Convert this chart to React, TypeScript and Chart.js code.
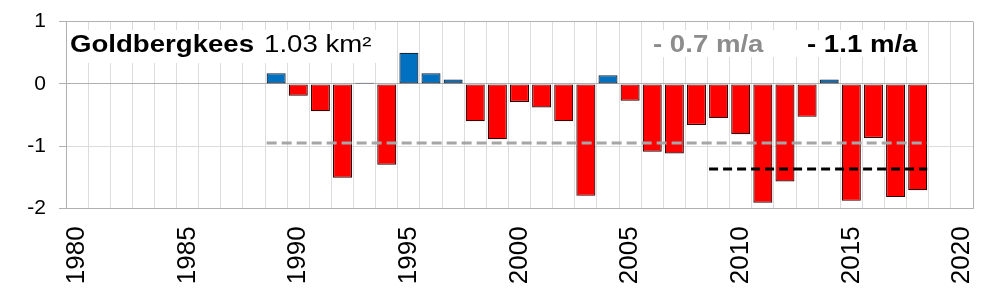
import React, { useEffect, useRef } from 'react';
import { Chart, registerables } from 'chart.js';

Chart.register(...registerables);

// ---- data ----
const firstAxisYear = 1980;
const lastAxisYear = 2020;
const years = [
  1989, 1990, 1991, 1992, 1993, 1994, 1995, 1996, 1997, 1998,
  1999, 2000, 2001, 2002, 2003, 2004, 2005, 2006, 2007, 2008,
  2009, 2010, 2011, 2012, 2013, 2014, 2015, 2016, 2017, 2018,
];
const balance = [
  0.17, -0.19, -0.44, -1.51, 0.02, -1.3, 0.5, 0.17, 0.07, -0.6,
  -0.89, -0.29, -0.38, -0.6, -1.8, 0.14, -0.27, -1.09, -1.12, -0.66,
  -0.55, -0.81, -1.91, -1.57, -0.53, 0.07, -1.88, -0.87, -1.82, -1.71,
];
const trendStart = [1989, 2009];
const trendEnd = [2018, 2018];
const trendValue = [-0.95, -1.37];
const trendColor = ['#a6a6a6', '#000000'];
const trendDash = [[10, 5], [9, 5]];
const yTicks = [1, 0, -1, -2];
const glacierName = 'Goldbergkees';
const glacierArea = '1.03 km²';
const rateLabels = ['- 0.7 m/a', '- 1.1 m/a'];
const rateColors = ['#8c8c8c', '#000000'];

const FONT = '"Liberation Sans", Arial, sans-serif';
const BAR_PCT = 0.86;

function stretchText(ctx: CanvasRenderingContext2D, text: string, x: number, y: number, font: string, color: string) {
  ctx.save();
  ctx.font = font;
  ctx.fillStyle = color;
  ctx.textAlign = 'left';
  ctx.textBaseline = 'alphabetic';
  ctx.translate(x, y);
  ctx.scale(1.2, 1);
  ctx.fillText(text, 0, 0);
  const w = ctx.measureText(text).width * 1.2;
  ctx.restore();
  return w;
}

const overlayPlugin = {
  id: 'overlay',
  beforeDatasetsDraw(chart: any) {
    const { ctx, chartArea: a } = chart;
    ctx.save();
    // white boxes behind text
    ctx.fillStyle = '#ffffff';
    ctx.fillRect(a.left + 1, 30, 388 - a.left, 33);
    ctx.fillRect(645, 30, 283, 27);
    // right border
    ctx.strokeStyle = '#b0b0b0';
    ctx.lineWidth = 1;
    ctx.beginPath();
    ctx.moveTo(Math.round(a.right) + 0.5, a.top);
    ctx.lineTo(Math.round(a.right) + 0.5, a.bottom);
    ctx.stroke();
    ctx.restore();

    const bold = `bold 23px ${FONT}`;
    const normal = `23px ${FONT}`;
    const w = stretchText(ctx, glacierName, 70, 52, bold, '#000');
    stretchText(ctx, glacierArea, 70 + w + 10, 52, normal, '#000');
    stretchText(ctx, rateLabels[0], 653, 52, bold, rateColors[0]);
    stretchText(ctx, rateLabels[1], 807, 52, bold, rateColors[1]);
  },
};

export default function App() {
  const ref = useRef<HTMLCanvasElement | null>(null);

  useEffect(() => {
    document.body.style.margin = '0';
    const labels: string[] = [];
    for (let y = firstAxisYear; y <= lastAxisYear; y++) labels.push(String(y));
    const barData = labels.map((l) => {
      const i = years.indexOf(Number(l));
      return i >= 0 ? balance[i] : null;
    });
    const half = BAR_PCT / 2;
    const trendSets = trendValue.map((v, i) => ({
      type: 'line' as const,
      xAxisID: 'xt',
      data: [
        { x: trendStart[i] - half, y: v },
        { x: trendEnd[i] + half, y: v },
      ],
      borderColor: trendColor[i],
      borderWidth: 3,
      borderDash: trendDash[i],
      pointRadius: 0,
      fill: false,
      order: 1,
    }));

    const chart = new Chart(ref.current as HTMLCanvasElement, {
      type: 'bar',
      data: {
        labels,
        datasets: [
          {
            type: 'bar',
            data: barData as any,
            backgroundColor: barData.map((v) => (v !== null && v >= 0 ? '#0070c0' : '#ff0000')),
            borderColor: barData.map((v) => (v !== null && v >= 0 ? '#15253a' : '#300000')),
            borderWidth: 1.2,
            borderSkipped: false,
            barPercentage: BAR_PCT,
            categoryPercentage: 1,
            grouped: false,
            order: 2,
          } as any,
          ...(trendSets as any),
        ],
      },
      options: {
        animation: false,
        responsive: false,
        maintainAspectRatio: false,
        layout: { padding: { top: 21.7, right: 27, left: 0, bottom: 0 } },
        plugins: { legend: { display: false }, tooltip: { enabled: false } },
        scales: {
          x: {
            type: 'category',
            offset: true,
            grid: { offset: true, color: '#dcdcdc', drawTicks: false },
            border: { display: true, color: '#b0b0b0' },
            ticks: {
              autoSkip: false,
              minRotation: 90,
              maxRotation: 90,
              padding: 18,
              color: '#000',
              font: { family: FONT, size: 26 },
              callback: function (this: any, _v: any, i: number) {
                const y = firstAxisYear + i;
                return y % 5 === 0 ? String(y) : '';
              },
            },
            afterFit: (s: any) => {
              s.height = 93.7;
              s.paddingLeft = 0;
              s.paddingRight = 0;
            },
          },
          xt: {
            type: 'linear',
            display: false,
            min: firstAxisYear - 0.5,
            max: lastAxisYear + 0.5,
            offset: false,
          },
          y: {
            min: yTicks[yTicks.length - 1],
            max: yTicks[0],
            afterBuildTicks: (s: any) => {
              s.ticks = yTicks.map((v) => ({ value: v }));
            },
            grid: {
              color: (c: any) => (c.tick && (c.tick.value === 0 || c.tick.value === 1) ? '#b0b0b0' : '#dcdcdc'),
              tickColor: '#b0b0b0',
              tickLength: 7,
            },
            border: { display: true, color: '#b0b0b0' },
            ticks: {
              padding: 13,
              color: '#000',
              font: { family: FONT, size: 21 },
              callback: (v: any) => String(v),
            },
            afterFit: (s: any) => {
              s.width = 66;
              s.paddingTop = 0;
              s.paddingBottom = 0;
            },
          },
        },
      } as any,
      plugins: [overlayPlugin],
    });
    return () => chart.destroy();
  }, []);

  return (
    <div style={{ width: 1000, height: 302 }}>
      <canvas ref={ref} width={1000} height={302} style={{ display: 'block' }} />
    </div>
  );
}
